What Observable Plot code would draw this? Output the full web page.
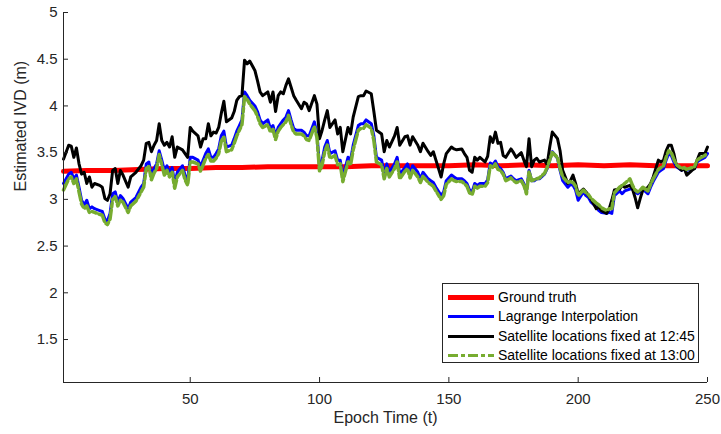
<!DOCTYPE html>
<html><head><meta charset="utf-8">
<script src="https://cdn.jsdelivr.net/npm/d3@7"></script>
<script src="https://cdn.jsdelivr.net/npm/@observablehq/plot@0.6"></script>
<style>
body{margin:0;background:#fff;}
#wrap{position:relative;width:721px;height:434px;font-family:"Liberation Sans",Arial,sans-serif;}
#legend{position:absolute;left:442px;top:283px;width:255px;height:78px;border:1px solid #262626;background:#fff;}
.row{position:absolute;left:0;height:19px;width:255px;font-size:14px;color:#000;}
.row svg{position:absolute;left:5px;top:0;}
.row span{position:absolute;left:55px;top:1px;line-height:17px;white-space:nowrap;}
</style></head><body><div id="wrap"></div>
<script>
const epochs = [1,3,4,5,6,7,8,9,10,11,12,13,15,16,17,18,19,20,21,22,23,24,26,27,29,31,32,33,34,35,36,37,38,39,40,41,42,43,44,45,47,48,49,50,51,53,54,55,56,57,58,59,60,61,62,63,64,66,67,68,69,70,71,72,73,75,76,77,78,80,81,82,83,84,
85,86,87,88,89,90,91,93,94,95,96,98,99,100,101,102,103,104,106,107,108,109,111,112,113,115,116,117,118,120,121,122,124,125,126,127,129,130,131,133,134,135,136,138,139,140,142,143,144,145,147,148,149,151,152,153,155,156,157,158,159,160,161,162,164,165,166,
167,168,169,170,171,172,174,175,176,178,179,180,181,182,183,184,185,187,188,189,190,192,193,194,196,197,198,199,200,202,203,204,205,207,208,209,211,212,213,214,216,217,218,220,221,222,223,224,225,227,228,229,231,232,233,234,235,236,237,238,240,241,242,244,245,246,247,249,250];

const fixed1245 = [3.43,3.58,3.57,3.45,3.55,3.38,3.27,3.29,3.17,3.24,3.13,3.17,3.15,3.13,3.01,2.99,3.06,3.31,3.33,3.17,3.31,3.26,3.13,3.24,3.29,3.36,3.42,3.60,3.61,3.51,3.58,3.63,3.81,3.63,3.58,3.61,3.56,3.67,3.45,3.56,3.53,3.49,3.45,3.77,3.73,3.68,3.56,3.65,3.65,3.81,3.68,3.72,3.71,3.77,3.92,4.05,3.83,3.87,3.94,4.06,4.10,4.11,4.49,4.45,4.48,4.38,4.27,4.15,4.11,4.15,4.04,4.15,3.94,4.11,
4.15,4.13,4.22,4.29,4.20,4.11,4.06,3.97,4.04,4.02,3.95,4.11,4.02,3.65,3.74,3.85,3.95,3.77,3.85,3.70,3.77,3.51,3.77,3.70,3.88,4.10,4.11,4.11,4.16,4.13,3.94,3.74,3.70,3.51,3.63,3.56,3.68,3.77,3.58,3.67,3.68,3.58,3.67,3.58,3.51,3.60,3.51,3.47,3.51,3.42,3.24,3.38,3.49,3.56,3.54,3.53,3.54,3.49,3.45,3.31,3.29,3.45,3.42,3.45,3.40,3.46,3.67,
3.61,3.72,3.60,3.61,3.47,3.45,3.54,3.50,3.45,3.50,3.42,3.35,3.65,3.35,3.42,3.44,3.40,3.42,3.37,3.56,3.72,3.65,3.52,3.31,3.17,3.20,3.26,3.17,3.06,3.11,3.08,3.04,3.00,2.90,2.92,2.88,2.85,2.90,2.99,3.10,3.11,3.15,3.13,3.15,3.11,3.02,2.91,3.01,3.10,3.13,3.17,3.24,3.42,3.40,3.42,3.52,3.58,3.58,3.49,3.36,3.31,3.33,3.26,3.31,3.33,3.42,3.49,3.49,3.56];

const lagrange = [3.17,3.27,3.29,3.22,3.26,3.13,2.99,2.94,2.99,2.90,2.92,2.90,2.88,2.87,2.79,2.77,2.85,3.06,3.08,2.97,3.04,3.01,2.90,2.97,3.02,3.13,3.17,3.38,3.40,3.26,3.33,3.38,3.52,3.42,3.31,3.36,3.29,3.34,3.17,3.29,3.36,3.26,3.20,3.45,3.45,3.42,3.35,3.42,3.49,3.54,3.45,3.45,3.49,3.54,3.68,3.73,3.56,3.58,3.65,3.73,3.79,3.85,4.15,4.11,4.06,4.00,3.94,3.85,3.81,3.85,3.76,3.79,3.68,3.77,
3.81,3.85,3.88,3.95,3.85,3.76,3.74,3.74,3.72,3.68,3.68,3.83,3.70,3.35,3.42,3.56,3.63,3.49,3.52,3.42,3.42,3.24,3.45,3.42,3.58,3.79,3.81,3.81,3.85,3.81,3.68,3.45,3.42,3.27,3.38,3.29,3.38,3.45,3.27,3.34,3.38,3.27,3.36,3.29,3.22,3.29,3.22,3.20,3.18,3.13,3.04,3.08,3.20,3.26,3.24,3.22,3.22,3.20,3.17,3.10,3.08,3.17,3.15,3.17,3.17,3.21,3.39,
3.37,3.41,3.35,3.33,3.29,3.22,3.25,3.22,3.20,3.22,3.17,3.08,3.31,3.20,3.20,3.22,3.22,3.27,3.33,3.42,3.51,3.44,3.31,3.20,3.13,3.16,3.15,3.10,2.99,3.08,3.04,3.02,2.97,2.92,2.88,2.86,2.85,2.86,2.85,3.04,3.09,3.06,3.09,3.11,3.11,3.08,3.06,3.08,3.11,3.06,3.13,3.19,3.29,3.31,3.33,3.42,3.49,3.47,3.40,3.35,3.31,3.33,3.31,3.33,3.33,3.40,3.42,3.45,3.49];

const fixed1300 = [3.10,3.22,3.24,3.17,3.22,3.08,2.95,2.90,2.93,2.86,2.87,2.86,2.84,2.83,2.75,2.73,2.79,3.00,3.03,2.93,2.99,2.97,2.86,2.93,2.98,3.08,3.13,3.33,3.35,3.21,3.28,3.33,3.48,3.37,3.26,3.31,3.24,3.29,3.12,3.24,3.31,3.21,3.15,3.40,3.40,3.38,3.30,3.37,3.44,3.48,3.41,3.41,3.44,3.49,3.62,3.67,3.51,3.53,3.60,3.68,3.74,3.80,4.10,4.07,4.02,3.95,3.89,3.81,3.77,3.80,3.72,3.75,3.64,3.73,
3.77,3.80,3.83,3.90,3.80,3.72,3.70,3.70,3.68,3.64,3.63,3.78,3.66,3.30,3.37,3.51,3.58,3.44,3.47,3.37,3.38,3.19,3.40,3.37,3.53,3.74,3.76,3.76,3.80,3.76,3.63,3.40,3.37,3.22,3.33,3.24,3.33,3.40,3.22,3.30,3.33,3.23,3.31,3.24,3.18,3.25,3.18,3.16,3.14,3.09,3.00,3.04,3.16,3.22,3.20,3.19,3.19,3.17,3.14,3.07,3.05,3.14,3.12,3.14,3.14,3.18,3.36,
3.34,3.38,3.32,3.31,3.27,3.20,3.23,3.20,3.18,3.20,3.15,3.06,3.30,3.20,3.21,3.22,3.23,3.28,3.34,3.42,3.50,3.45,3.33,3.24,3.18,3.19,3.18,3.14,3.04,3.10,3.07,3.05,3.01,2.96,2.94,2.91,2.88,2.90,2.90,3.07,3.13,3.15,3.17,3.22,3.15,3.10,3.08,3.10,3.13,3.09,3.16,3.22,3.32,3.34,3.36,3.45,3.52,3.50,3.43,3.37,3.33,3.34,3.32,3.34,3.35,3.42,3.44,3.47,3.50];

const truthEpochs = [1,10,20,30,40,50,60,70,80,90,100,110,120,130,140,150,160,170,180,190,200,210,220,230,240,250];
const truth = [3.30,3.31,3.31,3.32,3.33,3.33,3.34,3.34,3.35,3.35,3.35,3.35,3.36,3.36,3.36,3.36,3.37,3.36,3.37,3.36,3.37,3.36,3.37,3.36,3.36,3.36];

const seriesNames = ["Ground truth","Lagrange Interpolation","Satellite locations fixed at 12:45","Satellite locations fixed at 13:00"];
const seriesColors = ["#ff0000","#0000ff","#000000","#77ac30"];
const xTicks = [50,100,150,200,250];
const yTicks = [1.5,2,2.5,3,3.5,4,4.5,5];
const yMin = 1.04, yMax = 5;

const toRows = (xs, ys) => xs.map((t,i) => ({t, v: ys[i]}));
const truthRows = toRows(truthEpochs, truth);
const lagRows = toRows(epochs, lagrange);
const k45Rows = toRows(epochs, fixed1245);
const g00Rows = toRows(epochs, fixed1300);

const ink = "#262626";
const dashPattern = "10,3,4,3";
const chart = Plot.plot({
  width: 721, height: 434,
  marginLeft: 63, marginRight: 14, marginTop: 12, marginBottom: 52,
  style: {fontFamily: "'Liberation Sans', Arial, sans-serif", color: ink, background: "#fff"},
  x: {domain: [1, 250]},
  y: {domain: [yMin, yMax]},
  marks: [
    Plot.line(truthRows, {x: "t", y: "v", stroke: seriesColors[0], strokeWidth: 5}),
    Plot.line(lagRows, {x: "t", y: "v", stroke: seriesColors[1], strokeWidth: 3}),
    Plot.line(k45Rows, {x: "t", y: "v", stroke: seriesColors[2], strokeWidth: 3}),
    Plot.line(g00Rows, {x: "t", y: "v", stroke: seriesColors[3], strokeWidth: 3.5, strokeDasharray: dashPattern}),
    Plot.ruleX([1], {stroke: ink, strokeWidth: 1}),
    Plot.ruleY([yMin], {stroke: ink, strokeWidth: 1}),
    Plot.axisY({ticks: yTicks, tickSize: 0, tickPadding: 6, fontSize: 15, tickFormat: d => String(d), label: null}),
    Plot.axisY({ticks: yTicks, tickSize: 5, dx: 5, tickFormat: () => "", label: null, stroke: ink}),
    Plot.axisX({ticks: xTicks, tickSize: 0, tickPadding: 11, fontSize: 15, tickFormat: d => String(d), label: null}),
    Plot.axisX({ticks: xTicks, tickSize: 5, dy: -5, tickFormat: () => "", label: null, stroke: ink}),
    Plot.text(["Epoch Time (t)"], {text: d => d, frameAnchor: "bottom", dy: 40, fontSize: 16, fill: ink}),
    Plot.text(["Estimated IVD (m)"], {text: d => d, frameAnchor: "left", rotate: -90, dx: -43, dy: -6, fontSize: 16, fill: ink})
  ]
});
const wrap = document.getElementById("wrap");
wrap.appendChild(chart);

const legend = document.createElement("div");
legend.id = "legend";
const centers = [13, 32, 52, 71];
seriesNames.forEach((name, i) => {
  const row = document.createElement("div");
  row.className = "row";
  row.style.top = (centers[i] - 9.5) + "px";
  const w = i === 0 ? 5 : 3;
  const dash = i === 3 ? ` stroke-dasharray="${dashPattern}"` : '';
  row.innerHTML = `<svg width="46" height="19"><line x1="0" x2="46" y1="9.5" y2="9.5" stroke="${seriesColors[i]}" stroke-width="${w}"${dash}/></svg><span>${name}</span>`;
  legend.appendChild(row);
});
wrap.appendChild(legend);
</script></body></html>
